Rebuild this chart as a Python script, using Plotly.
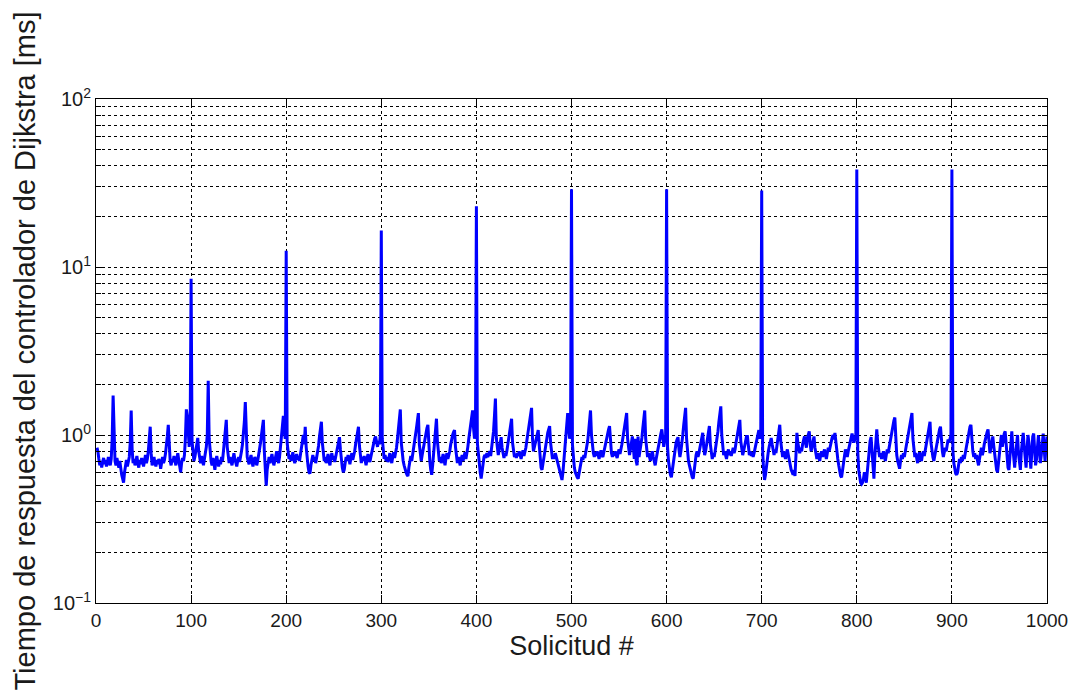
import plotly.graph_objects as go

# Response time of Dijkstra controller [ms], requests 1..1000 (rows of 20)
times_001_200 = [
    0.84, 0.80, 0.72, 0.66, 0.70, 0.64, 0.69, 0.73, 0.67, 0.71, 0.65, 0.68, 0.74, 0.70, 0.66, 0.72, 0.95, 1.72, 0.88, 0.70,
    0.66, 0.73, 0.68, 0.64, 0.70, 0.62, 0.58, 0.55, 0.52, 0.60, 0.67, 0.71, 0.65, 0.69, 0.74, 0.90, 1.40, 0.82, 0.68, 0.72,
    0.66, 0.70, 0.75, 0.68, 0.64, 0.71, 0.67, 0.73, 0.69, 0.65, 0.70, 0.76, 0.68, 0.72, 0.80, 0.95, 1.12, 0.78, 0.66, 0.70,
    0.74, 0.68, 0.65, 0.71, 0.67, 0.72, 0.69, 0.63, 0.70, 0.74, 0.68, 0.71, 0.77, 0.85, 0.98, 1.15, 0.82, 0.70, 0.66, 0.72,
    0.69, 0.75, 0.70, 0.66, 0.72, 0.78, 0.71, 0.64, 0.60, 0.68, 0.73, 0.70, 0.76, 0.95, 1.42, 1.30, 1.00, 0.85, 1.05, 8.50,
    0.92, 0.78, 0.70, 0.74, 0.82, 0.90, 0.96, 0.80, 0.72, 0.68, 0.75, 0.70, 0.66, 0.72, 0.78, 0.85, 1.00, 2.10, 0.95, 0.74,
    0.70, 0.66, 0.73, 0.68, 0.62, 0.70, 0.75, 0.69, 0.65, 0.71, 0.67, 0.74, 0.70, 0.80, 0.92, 1.05, 1.23, 0.85, 0.72, 0.68,
    0.74, 0.70, 0.66, 0.71, 0.78, 0.72, 0.68, 0.65, 0.70, 0.74, 0.69, 0.73, 0.80, 0.88, 1.00, 1.20, 1.57, 0.90, 0.74, 0.70,
    0.67, 0.72, 0.76, 0.70, 0.65, 0.69, 0.74, 0.71, 0.66, 0.70, 0.75, 0.82, 0.90, 1.00, 1.10, 1.23, 0.80, 0.60, 0.50, 0.62,
    0.70, 0.74, 0.68, 0.72, 0.77, 0.71, 0.66, 0.70, 0.75, 0.80, 0.72, 0.68, 0.74, 0.85, 1.00, 1.15, 1.30, 1.05, 0.95, 12.5,
]
times_201_400 = [
    0.90, 0.80, 0.72, 0.76, 0.70, 0.74, 0.79, 0.72, 0.68, 0.73, 0.77, 0.71, 0.75, 0.70, 0.78, 0.86, 0.95, 1.00, 0.88, 1.12,
    0.85, 0.72, 0.65, 0.60, 0.59, 0.66, 0.72, 0.76, 0.70, 0.74, 0.68, 0.73, 0.78, 0.86, 0.98, 1.10, 1.20, 0.90, 0.74, 0.70,
    0.74, 0.68, 0.72, 0.77, 0.70, 0.66, 0.73, 0.78, 0.71, 0.75, 0.69, 0.74, 0.80, 0.86, 0.92, 0.97, 0.82, 0.70, 0.64, 0.60,
    0.62, 0.68, 0.74, 0.70, 0.76, 0.72, 0.67, 0.73, 0.78, 0.71, 0.75, 0.80, 0.88, 0.98, 1.05, 1.12, 0.86, 0.72, 0.68, 0.74,
    0.70, 0.75, 0.71, 0.66, 0.72, 0.77, 0.73, 0.69, 0.74, 0.80, 0.86, 0.90, 0.95, 0.98, 0.90, 0.85, 0.92, 0.88, 1.00, 16.5,
    0.95, 0.80, 0.72, 0.76, 0.70, 0.74, 0.69, 0.73, 0.78, 0.72, 0.68, 0.74, 0.79, 0.73, 0.77, 0.84, 0.95, 1.10, 1.25, 1.42,
    0.90, 0.76, 0.70, 0.66, 0.62, 0.60, 0.58, 0.57, 0.64, 0.71, 0.75, 0.70, 0.76, 0.82, 0.90, 1.00, 1.10, 1.22, 1.35, 0.88,
    0.74, 0.70, 0.76, 0.82, 0.90, 0.98, 1.05, 1.10, 1.15, 0.85, 0.70, 0.62, 0.58, 0.66, 0.80, 0.95, 1.10, 1.25, 0.92, 0.75,
    0.70, 0.74, 0.68, 0.72, 0.77, 0.71, 0.66, 0.73, 0.78, 0.72, 0.75, 0.80, 0.88, 0.95, 1.00, 1.04, 1.07, 0.85, 0.72, 0.68,
    0.74, 0.70, 0.66, 0.72, 0.76, 0.70, 0.74, 0.79, 0.72, 0.77, 0.85, 0.95, 1.05, 1.20, 1.30, 1.40, 1.10, 0.95, 1.00, 23.0,
]
times_401_600 = [
    0.90, 0.75, 0.66, 0.60, 0.55, 0.62, 0.70, 0.74, 0.76, 0.73, 0.78, 0.74, 0.77, 0.80, 0.75, 0.82, 0.90, 1.05, 1.30, 1.65,
    0.95, 0.80, 0.76, 0.82, 0.90, 0.97, 0.84, 0.76, 0.73, 0.78, 0.75, 0.80, 0.88, 0.96, 1.05, 1.15, 1.25, 0.90, 0.78, 0.74,
    0.77, 0.73, 0.78, 0.75, 0.80, 0.76, 0.72, 0.77, 0.81, 0.75, 0.79, 0.84, 0.92, 1.00, 1.10, 1.25, 1.35, 1.45, 0.95, 0.80,
    0.85, 0.90, 0.98, 1.03, 1.07, 0.88, 0.72, 0.64, 0.62, 0.68, 0.76, 0.80, 0.86, 0.95, 1.03, 1.08, 1.13, 0.90, 0.78, 0.72,
    0.76, 0.72, 0.78, 0.74, 0.70, 0.66, 0.62, 0.58, 0.56, 0.54, 0.60, 0.70, 0.82, 0.98, 1.15, 1.35, 1.10, 0.95, 1.00, 29.0,
    0.88, 0.72, 0.64, 0.60, 0.57, 0.56, 0.55, 0.60, 0.66, 0.70, 0.74, 0.71, 0.76, 0.73, 0.78, 0.84, 0.92, 1.05, 1.20, 1.40,
    1.00, 0.84, 0.78, 0.74, 0.79, 0.75, 0.80, 0.76, 0.72, 0.77, 0.81, 0.76, 0.74, 0.79, 0.85, 0.92, 0.98, 1.04, 1.08, 1.13,
    0.88, 0.78, 0.74, 0.79, 0.75, 0.80, 0.76, 0.73, 0.78, 0.82, 0.77, 0.81, 0.88, 0.96, 1.05, 1.15, 1.25, 1.35, 0.95, 0.80,
    0.76, 0.82, 0.90, 0.98, 0.85, 0.72, 0.95, 0.70, 0.66, 0.98, 0.74, 0.80, 0.88, 0.96, 1.10, 1.25, 1.40, 0.95, 0.80, 0.74,
    0.78, 0.74, 0.70, 0.76, 0.80, 0.74, 0.70, 0.66, 0.72, 0.78, 0.84, 0.90, 0.96, 1.02, 1.08, 0.92, 0.85, 0.92, 1.00, 29.0,
]
times_601_800 = [
    0.85, 0.70, 0.62, 0.58, 0.56, 0.62, 0.70, 0.76, 0.82, 0.90, 0.94, 0.97, 0.82, 0.74, 0.80, 0.88, 1.00, 1.15, 1.30, 1.45,
    0.95, 0.78, 0.70, 0.66, 0.62, 0.58, 0.56, 0.55, 0.62, 0.70, 0.76, 0.80, 0.74, 0.78, 0.84, 0.90, 0.96, 1.03, 0.85, 0.76,
    0.80, 0.88, 0.96, 1.05, 1.13, 0.88, 0.76, 0.72, 0.78, 0.74, 0.80, 0.86, 0.94, 1.05, 1.20, 1.35, 1.48, 1.00, 0.82, 0.76,
    0.80, 0.76, 0.72, 0.78, 0.82, 0.76, 0.80, 0.75, 0.79, 0.84, 0.78, 0.82, 0.90, 0.98, 1.08, 1.15, 1.23, 0.92, 0.80, 0.76,
    0.80, 0.86, 0.92, 0.98, 0.98, 0.82, 0.76, 0.80, 0.75, 0.79, 0.74, 0.78, 0.84, 0.90, 0.96, 1.02, 1.07, 0.95, 1.00, 28.5,
    0.80, 0.62, 0.54, 0.58, 0.66, 0.74, 0.80, 0.86, 0.92, 0.96, 0.88, 0.80, 0.76, 0.82, 0.78, 0.86, 0.95, 1.05, 1.15, 0.92,
    0.80, 0.74, 0.80, 0.76, 0.72, 0.78, 0.82, 0.76, 0.70, 0.66, 0.62, 0.60, 0.58, 0.62, 0.57, 0.75, 1.03, 0.90, 0.82, 0.78,
    0.84, 0.80, 0.88, 0.94, 0.98, 0.90, 0.84, 0.96, 1.00, 1.05, 0.88, 0.80, 0.86, 0.92, 0.98, 0.84, 0.76, 0.72, 0.78, 0.74,
    0.70, 0.76, 0.80, 0.74, 0.78, 0.82, 0.76, 0.72, 0.78, 0.84, 0.80, 0.86, 0.92, 0.96, 1.00, 0.94, 1.03, 0.88, 0.78, 0.72,
    0.66, 0.60, 0.57, 0.56, 0.62, 0.70, 0.76, 0.82, 0.78, 0.74, 0.80, 0.86, 0.92, 0.98, 1.02, 0.96, 0.90, 0.95, 1.00, 38.0,
]
times_801_1000 = [
    0.80, 0.62, 0.54, 0.52, 0.51, 0.52, 0.55, 0.60, 0.56, 0.52, 0.60, 0.72, 0.84, 0.92, 0.97, 0.80, 0.62, 0.55, 0.75, 0.95,
    1.08, 0.90, 0.80, 0.74, 0.78, 0.72, 0.76, 0.80, 0.74, 0.70, 0.76, 0.82, 0.78, 0.84, 0.92, 1.00, 1.08, 1.15, 1.22, 1.27,
    0.90, 0.76, 0.70, 0.66, 0.63, 0.70, 0.76, 0.72, 0.78, 0.74, 0.80, 0.86, 0.94, 1.02, 1.12, 1.22, 1.30, 1.35, 0.95, 0.80,
    0.74, 0.78, 0.72, 0.68, 0.74, 0.79, 0.73, 0.70, 0.76, 0.80, 0.75, 0.82, 0.90, 0.98, 1.06, 1.14, 1.20, 0.90, 0.78, 0.74,
    0.70, 0.76, 0.80, 0.86, 0.94, 1.02, 1.08, 1.12, 0.92, 0.80, 0.74, 0.78, 0.84, 0.80, 0.88, 0.94, 0.90, 0.96, 1.00, 38.0,
    0.82, 0.68, 0.62, 0.59, 0.58, 0.60, 0.66, 0.72, 0.68, 0.74, 0.70, 0.76, 0.72, 0.78, 0.84, 0.92, 1.00, 1.08, 1.12, 1.15,
    0.90, 0.80, 0.74, 0.78, 0.72, 0.76, 0.70, 0.66, 0.72, 0.78, 0.84, 0.76, 0.80, 0.88, 0.94, 1.00, 1.04, 1.08, 0.90, 0.78,
    0.84, 0.92, 0.98, 0.86, 0.76, 0.68, 0.62, 0.60, 0.70, 0.80, 0.92, 1.00, 0.85, 0.96, 1.02, 1.05, 0.84, 0.70, 0.64, 0.62,
    0.74, 0.90, 1.05, 0.85, 0.70, 0.64, 0.76, 0.92, 1.00, 0.78, 0.66, 0.62, 0.80, 0.96, 1.03, 0.86, 0.72, 0.64, 0.82, 1.00,
    0.90, 0.70, 0.63, 0.78, 0.98, 1.02, 0.80, 0.66, 0.72, 0.94, 1.00, 0.84, 0.68, 0.76, 0.96, 1.02, 0.82, 0.70, 0.88, 0.98,
]

x_tick_vals = [0, 100, 200, 300, 400, 500, 600, 700, 800, 900, 1000]
y_tick_vals = [0.1, 1, 10, 100]
y_tick_text = ["10<sup>−1</sup>", "10<sup>0</sup>", "10<sup>1</sup>", "10<sup>2</sup>"]
y_minor_vals = [m * d for d in (0.1, 1, 10) for m in range(2, 10)]

times = times_001_200 + times_201_400 + times_401_600 + times_601_800 + times_801_1000
request = list(range(1, len(times) + 1))

font_family = "Liberation Sans, Arial, Helvetica, sans-serif"
text_color = "#1a1a1a"

fig = go.Figure()
fig.add_trace(go.Scatter(
    x=request, y=times, mode="lines",
    line=dict(color="#0000FF", width=3),
    showlegend=False,
))

fig.update_layout(
    width=1082, height=695,
    margin=dict(l=96, r=35, t=99, b=92),
    paper_bgcolor="white", plot_bgcolor="white",
    font=dict(family=font_family, color=text_color, size=19),
)

fig.update_xaxes(
    range=[0, 1000],
    tickmode="array", tickvals=x_tick_vals,
    ticks="inside", ticklen=8, tickwidth=1, tickcolor="black",
    showline=True, linecolor="black", linewidth=1, mirror="ticks",
    showgrid=True, gridcolor="black", gridwidth=1, griddash="dot",
    zeroline=False,
    tickfont=dict(size=19, color=text_color),
    title=dict(text="Solicitud #", font=dict(size=27, color=text_color), standoff=4),
)

fig.update_yaxes(
    type="log", range=[-1, 2],
    tickmode="array", tickvals=y_tick_vals, ticktext=y_tick_text,
    ticks="inside", ticklen=8, tickwidth=1, tickcolor="black",
    showline=True, linecolor="black", linewidth=1, mirror="ticks",
    showgrid=True, gridcolor="black", gridwidth=1, griddash="dot",
    zeroline=False,
    tickfont=dict(size=20, color=text_color),
    minor=dict(tickmode="array", tickvals=y_minor_vals, ticks="inside", ticklen=5,
               tickcolor="black", showgrid=True, gridcolor="black", gridwidth=1, griddash="dot"),
    title=dict(text="Tiempo de respuesta del controlador de Dijkstra [ms]",
               font=dict(size=29, color=text_color), standoff=8),
)

fig.write_html("out.html")
